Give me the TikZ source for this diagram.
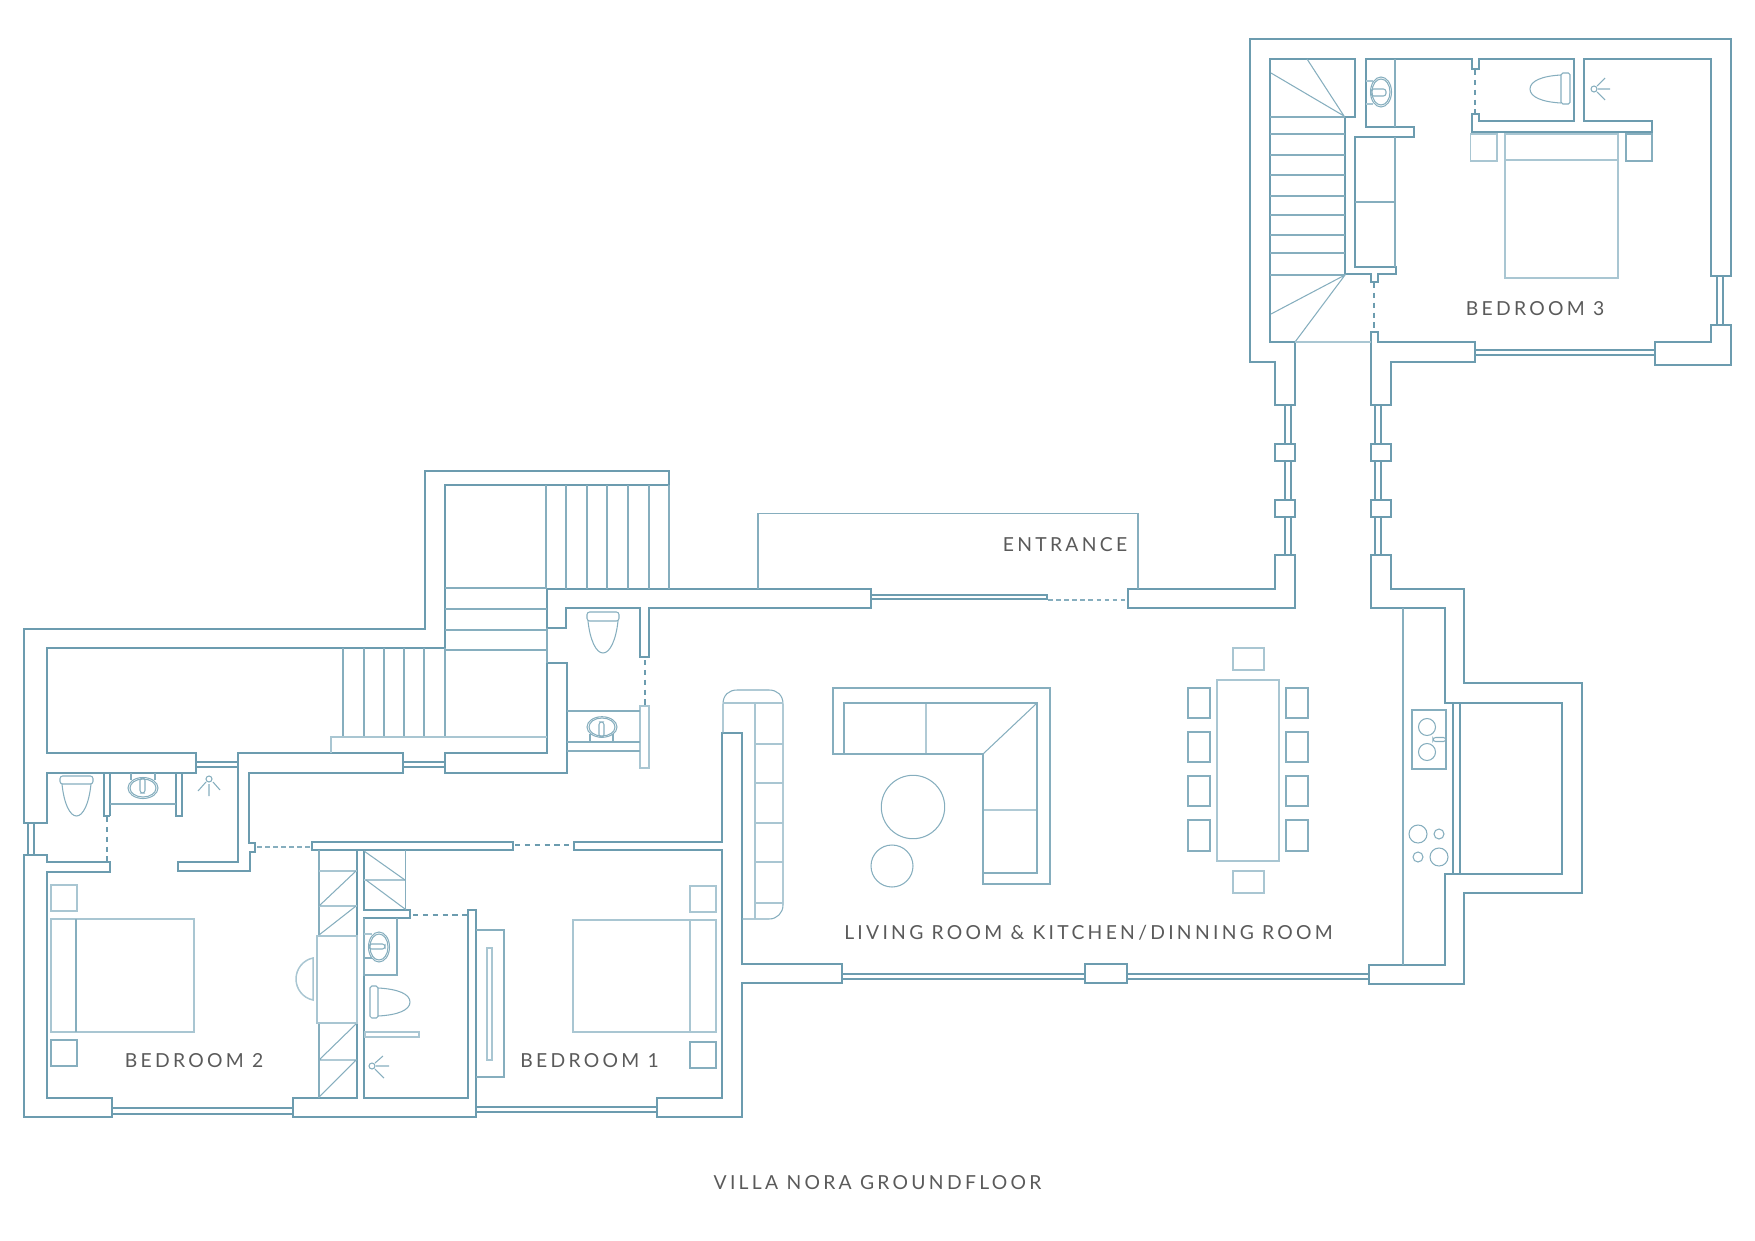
\documentclass[tikz,border=0pt]{standalone}
\usepackage{fontspec}
\usepackage{xcolor}
\usepackage{tikz}
\newfontfamily\planfont[LetterSpace=17]{Lato}
\definecolor{wallblue}{HTML}{6C9CAF}
\definecolor{lineblue}{HTML}{86AEBE}
\definecolor{paleblue}{HTML}{A9C6D2}
\definecolor{labelgray}{HTML}{5A5A5A}

\begin{document}
\begin{tikzpicture}
  [
    x=0.02cm, y=-0.02cm,
    Wall/.style={draw=wallblue, line width=1.25pt, line join=miter},
    Glass/.style={draw=wallblue, line width=1.15pt},
    Thin/.style={draw=lineblue, line width=0.6pt},
    Pale/.style={draw=paleblue, line width=0.85pt},
    Gap/.style={draw=wallblue, line width=1.1pt, dash pattern=on 3pt off 2.6pt},
    ThinGap/.style={draw=lineblue, line width=0.6pt, dash pattern=on 2.6pt off 2pt},
    Room/.style={text=labelgray, inner sep=0pt, anchor=base, font=\planfont\fontsize{11}{14}\selectfont}
  ]
  \useasboundingbox (0,0) rectangle (1755,1241);

  % Walls
  \path [Wall] (1250,39) -- (1731,39) -- (1731,276) -- (1711,276) -- (1711,59) -- (1584,59) -- (1584,121) -- (1652,121) -- (1652,132) -- (1472,132) -- (1472,114) -- (1479,114) -- (1479,121) -- (1574,121) -- (1574,59) -- (1479,59) -- (1479,69) -- (1472,69) -- (1472,59) -- (1366,59) -- (1366,127) -- (1414,127) -- (1414,137) -- (1355,137) -- (1355,267) -- (1396,267) -- (1396,274) -- (1378,274) -- (1378,282) -- (1371,282) -- (1371,274) -- (1345,274) -- (1345,117) -- (1355,117) -- (1355,59) -- (1270,59) -- (1270,342) -- (1295,342) -- (1295,405) -- (1275,405) -- (1275,362) -- (1250,362) -- cycle;
  \path [Wall] (1655,342) -- (1711,342) -- (1711,325) -- (1731,325) -- (1731,365) -- (1655,365) -- cycle;
  \path [Wall] (1371,332) -- (1378,332) -- (1378,342) -- (1475,342) -- (1475,362) -- (1391,362) -- (1391,405) -- (1371,405) -- cycle;
  \path [Wall] (1275,444) rectangle (1295,461);
  \path [Wall] (1275,500) rectangle (1295,517);
  \path [Wall] (1371,444) rectangle (1391,461);
  \path [Wall] (1371,500) rectangle (1391,517);
  \path [Wall] (1128,589) -- (1275,589) -- (1275,555) -- (1295,555) -- (1295,608) -- (1128,608) -- cycle;
  \path [Wall] (1371,555) -- (1391,555) -- (1391,589) -- (1464,589) -- (1464,683) -- (1582,683) -- (1582,893) -- (1464,893) -- (1464,984) -- (1369,984) -- (1369,965) -- (1445,965) -- (1445,874) -- (1562,874) -- (1562,703) -- (1445,703) -- (1445,608) -- (1371,608) -- cycle;
  \path [Wall] (722,733) -- (742,733) -- (742,964) -- (842,964) -- (842,983) -- (742,983) -- (742,1117) -- (657,1117) -- (657,1098) -- (722,1098) -- (722,850) -- (574,850) -- (574,842) -- (722,842) -- cycle;
  \path [Wall] (1085,964) rectangle (1127,983);
  \path [Wall] (312,842) rectangle (513,850);
  \path [Wall] (669,471) -- (425,471) -- (425,629) -- (24,629) -- (24,823) -- (47,823) -- (47,773) -- (196,773) -- (196,753) -- (47,753) -- (47,648) -- (445,648) -- (445,485) -- (669,485) -- cycle;
  \path [Wall] (238,753) -- (403,753) -- (403,773) -- (249,773) -- (249,843) -- (255,843) -- (255,852) -- (250,852) -- (250,871) -- (178,871) -- (178,862) -- (238,862) -- cycle;
  \path [Wall] (445,753) -- (547,753) -- (547,663) -- (567,663) -- (567,773) -- (445,773) -- cycle;
  \path [Wall] (547,589) -- (871,589) -- (871,608) -- (649,608) -- (649,657) -- (640,657) -- (640,608) -- (566,608) -- (566,628) -- (547,628) -- cycle;
  \path [Wall] (24,855) -- (47,855) -- (47,862) -- (110,862) -- (110,872) -- (47,872) -- (47,1098) -- (112,1098) -- (112,1117) -- (24,1117) -- cycle;
  \path [Wall] (293,1098) -- (357,1098) -- (357,850) -- (364,850) -- (364,910) -- (410,910) -- (410,918) -- (364,918) -- (364,1098) -- (468,1098) -- (468,910) -- (476,910) -- (476,1117) -- (293,1117) -- cycle;
  \path [Wall] (110,816) -- (110,773) (104,773) -- (104,816) -- (110,816);
  \path [Wall] (176,773) -- (176,816) -- (182,816) -- (182,773);

  % Windows
  \path [Glass] (1717,276) -- (1717,325) (1723,276) -- (1723,325);
  \path [Glass] (1475,350) -- (1655,350) (1475,355) -- (1655,355);
  \path [Glass] (1285,405) -- (1285,444) (1291,405) -- (1291,444);
  \path [Glass] (1285,461) -- (1285,500) (1291,461) -- (1291,500);
  \path [Glass] (1285,517) -- (1285,555) (1291,517) -- (1291,555);
  \path [Glass] (1375,405) -- (1375,444) (1381,405) -- (1381,444);
  \path [Glass] (1375,461) -- (1375,500) (1381,461) -- (1381,500);
  \path [Glass] (1375,517) -- (1375,555) (1381,517) -- (1381,555);
  \path [Glass] (1453,703) -- (1453,874) (1460,703) -- (1460,874);
  \path [Glass] (842,974) -- (1085,974) (842,979) -- (1085,979);
  \path [Glass] (1127,974) -- (1369,974) (1127,979) -- (1369,979);
  \path [Glass] (871,595) -- (1047,595) -- (1047,599) -- (871,599);
  \path [Glass] (196,762) -- (238,762) (196,767) -- (238,767);
  \path [Glass] (403,762) -- (445,762) (403,767) -- (445,767);
  \path [Glass] (28,823) -- (28,855) (34,823) -- (34,855);
  \path [Glass] (112,1108) -- (293,1108) (112,1114) -- (293,1114);
  \path [Glass] (476,1107) -- (657,1107) (476,1112) -- (657,1112);

  % Doors
  \path [Gap] (1475,70) -- (1475,113);
  \path [Gap] (1374,283) -- (1374,332);
  \path [Gap] (645,660) -- (645,706);
  \path [Gap] (515,845) -- (574,845);
  \path [Gap] (107,817) -- (107,861);
  \path [Gap] (413,915) -- (467,915);
  \path [ThinGap] (257,847) -- (311,847);
  \path [ThinGap] (1048,600) -- (1127,600);

  % Upper stairs
  \path [Thin] (1270,117) -- (1345,117) (1270,134) -- (1345,134) (1270,155) -- (1345,155) (1270,175) -- (1345,175) (1270,196) -- (1345,196) (1270,215) -- (1345,215) (1270,235) -- (1345,235) (1270,253) -- (1345,253) (1270,275) -- (1345,275);
  \path [Thin] (1307,59) -- (1344,116) -- (1271,73);
  \path [Thin] (1271,314) -- (1345,275) -- (1295,342);
  \path [Pale] (1295,342) -- (1371,342);

  % Main stairs
  \path [Thin] (546,485) -- (546,589) (566,485) -- (566,589) (587,485) -- (587,589) (607,485) -- (607,589) (628,485) -- (628,589) (649,485) -- (649,589) (669,485) -- (669,589);
  \path [Thin] (445,588) -- (547,588) (445,609) -- (547,609) (445,630) -- (547,630) (445,650) -- (547,650) (547,628) -- (547,663);
  \path [Thin] (343,648) -- (343,737) (364,648) -- (364,737) (384,648) -- (384,737) (404,648) -- (404,737) (424,648) -- (424,737) (445,648) -- (445,737);
  \path [Pale] (331,753) -- (331,737) -- (547,737);

  % Bedroom 3
  \path [Thin] (1395,59) -- (1395,127) (1395,137) -- (1395,267) (1355,202) -- (1395,202);
  \path [Pale] (1366,81) -- (1373,81) (1366,104) -- (1373,104);
  \path [Thin] (1381,92) ellipse [x radius=10.5, y radius=15];
  \path [Thin] (1381,92) ellipse [x radius=9, y radius=13];
  \path [Thin, rounded corners=1.5pt] (1371,89) rectangle (1386,96);
  \path [Thin, rounded corners=1pt] (1561,73) rectangle (1570,104);
  \path [Thin] (1561,75) .. controls (1542,76) and (1530,81) .. (1530,89) .. controls (1530,97) and (1542,102) .. (1561,103);
  \path [Thin] (1594,89) circle [radius=3];
  \path [Thin] (1597,86) -- (1605,78) (1598,89) -- (1610,89) (1597,92) -- (1605,100);
  \path [Pale] (1505,134) rectangle (1618,278) (1505,160) -- (1618,160);
  \path [Pale] (1470.5,134) rectangle (1497,161);
  \path [Thin] (1626,134) rectangle (1652,161);

  % Dining and kitchen
  \path [Pale] (1217,680) rectangle (1279,861);
  \path [Pale] (1233,648) rectangle (1264,670);
  \path [Pale] (1233,871) rectangle (1264,893);
  \path [Thin] (1188,688) rectangle (1210,718);
  \path [Thin] (1188,732) rectangle (1210,762);
  \path [Thin] (1188,776) rectangle (1210,806);
  \path [Thin] (1188,820) rectangle (1210,851);
  \path [Thin] (1286,688) rectangle (1308,718);
  \path [Thin] (1286,732) rectangle (1308,762);
  \path [Thin] (1286,776) rectangle (1308,806);
  \path [Thin] (1286,820) rectangle (1308,851);
  \path [Thin] (1403,608) -- (1403,965);
  \path [Thin] (1412,710) rectangle (1446,769);
  \path [Thin] (1427,727) circle [radius=8.5];
  \path [Thin] (1427,752) circle [radius=8.5];
  \path [Thin, rounded corners=1.5pt] (1433,737.5) rectangle (1446,741.5);
  \path [Thin] (1418,834) circle [radius=9];
  \path [Thin] (1439,834) circle [radius=5];
  \path [Thin] (1418,857) circle [radius=5];
  \path [Thin] (1439,857) circle [radius=9];

  % Entrance
  \path [Thin] (758,589) -- (758,513.5) -- (1138,513.5) -- (1138,589);

  % Living room
  \path [Thin] (833,688) -- (1050,688) -- (1050,884) -- (983,884) -- (983,754) -- (833,754) -- cycle;
  \path [Thin] (844,754) -- (844,703) -- (1037,703) -- (1037,873) -- (983,873);
  \path [Thin] (983,754) -- (1037,703) (926,703) -- (926,754) (983,810) -- (1037,810);
  \path [Thin] (913,807) circle [radius=31.7];
  \path [Thin] (892,866) circle [radius=21];
  \path [Thin] (723,733) -- (723,704) .. controls (723,695) and (729,690) .. (737,690) -- (769,690) .. controls (777,690) and (783,695) .. (783,704) -- (783,905) .. controls (783,913) and (777,919) .. (769,919) -- (742,919);
  \path [Pale] (723,703) -- (783,703) (755,703) -- (755,919) (755,744) -- (783,744) (755,783) -- (783,783) (755,823) -- (783,823) (755,862) -- (783,862) (755,903) -- (783,903);

  % Entry bath
  \path [Thin, rounded corners=1.5pt] (587,612) rectangle (619,621);
  \path [Thin] (588,621) .. controls (590,640) and (596,653) .. (603,653) .. controls (610,653) and (616,640) .. (618,621);
  \path [Pale] (640,706) rectangle (649,768);
  \path [Thin] (567,711) -- (640,711) (567,742) -- (640,742) (567,751) -- (640,751) (590,734) -- (590,742) (613,734) -- (613,742);
  \path [Thin] (602,727) ellipse [x radius=15, y radius=10.3];
  \path [Thin] (602,727) ellipse [x radius=13, y radius=9];
  \path [Thin, rounded corners=1.5pt] (599,722) rectangle (604,737);

  % Bath of bedroom 2
  \path [Thin, rounded corners=1.5pt] (60,776) rectangle (93,784);
  \path [Thin] (62,784) .. controls (64,804) and (70,816) .. (76.5,816) .. controls (83,816) and (89,804) .. (91,784);
  \path [Thin] (110,804) -- (176,804) (131,773) -- (131,780) (155,773) -- (155,780);
  \path [Thin] (143,788) ellipse [x radius=15, y radius=10.5];
  \path [Thin] (143,788) ellipse [x radius=13, y radius=9];
  \path [Thin, rounded corners=1.5pt] (140,778) rectangle (145,793);
  \path [Thin] (209,779) circle [radius=3];
  \path [Thin] (206,782) -- (198,791) (213,782) -- (220,790) (209,784) -- (209,796);

  % Bedroom 2
  \path [Pale] (51,919) rectangle (194,1032);
  \path [Thin] (76,919) -- (76,1032);
  \path [Pale] (51,885) rectangle (77,911);
  \path [Thin] (51,1040) rectangle (77,1066);
  \path [Thin] (319,850) -- (319,936) (319,1023) -- (319,1098);
  \path [Pale] (319,871) -- (357,871) (319,906) -- (357,906);
  \path [Thin] (319,906) -- (356,871) (319,935) -- (356,906);
  \path [Pale] (317,936) rectangle (357,1023);
  \path [Thin] (319,1060) -- (357,1060) (319,1060) -- (356,1024) (319,1097) -- (356,1060);
  \path [Pale] (313,958) .. controls (303,960) and (296,969) .. (296,979) .. controls (296,989) and (303,998) .. (313,1000) -- cycle;

  % Bath of bedroom 1
  \path [Thin] (405.7,850) -- (405.7,910);
  \path [Pale] (364,880) -- (405,880);
  \path [Thin] (364,851) -- (405,880) (366,880) -- (405,909);
  \path [Thin] (364,918) -- (364,975) -- (397,975) -- (397,918);
  \path [Pale] (364,934) -- (372,934);
  \path [Thin] (364,958) -- (372,958);
  \path [Thin] (379,947) ellipse [x radius=10.5, y radius=15];
  \path [Thin] (379,947) ellipse [x radius=9, y radius=13];
  \path [Thin, rounded corners=1.5pt] (369,944) rectangle (385,949);
  \path [Thin, rounded corners=1pt] (370,986) rectangle (378,1018);
  \path [Thin] (378,988) .. controls (398,989) and (410,994) .. (410,1002) .. controls (410,1010) and (398,1015) .. (378,1016);
  \path [Pale] (365,1032) rectangle (419,1037);
  \path [Thin] (372,1066) circle [radius=3];
  \path [Thin] (375,1063) -- (383,1056) (376,1066) -- (389,1066) (375,1069) -- (384,1078);

  % Bedroom 1
  \path [Thin] (476,930) -- (504,930) -- (504,1077) -- (476,1077);
  \path [Pale] (487,948) rectangle (492,1060);
  \path [Pale] (573,920) rectangle (716,1032);
  \path [Pale] (690,920) -- (690,1032);
  \path [Pale] (690,886) rectangle (716,912);
  \path [Thin] (690,1042) rectangle (716,1068);

  % Labels
  \node [Room] (bedroom3) at (1535,315) {BEDROOM 3};
  \node [Room] (entrance) at (1065,551.5) {ENTRANCE};
  \node [Room] (living) at (1088.5,939.3) {LIVING ROOM \& KITCHEN/DINNING ROOM};
  \node [Room] (bedroom2) at (194,1067.3) {BEDROOM 2};
  \node [Room] (bedroom1) at (589.5,1067.3) {BEDROOM 1};
  \node [Room] (title) at (877.5,1189) {VILLA NORA GROUNDFLOOR};

\end{tikzpicture}
\end{document}
